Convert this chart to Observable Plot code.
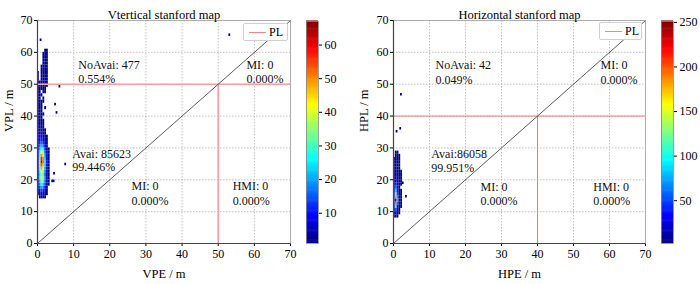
<!DOCTYPE html>
<html><head><meta charset="utf-8">
<script src="https://cdn.jsdelivr.net/npm/d3@7"></script>
<script src="https://cdn.jsdelivr.net/npm/@observablehq/plot@0.6"></script>
<style>
body{margin:0;background:#fff;}
#wrap{position:relative;width:700px;height:284px;overflow:hidden;font-family:"Liberation Serif","Times New Roman",serif;}
.abs{position:absolute;top:0;}
#wrap svg g[aria-label*="axis"] text{font-size:12px;}
.leg{position:absolute;background:#fff;border:1px solid #d0d0d0;border-radius:2px;box-sizing:border-box;}
.leg .ln{position:absolute;height:0;border-top:1px solid #f08a8a;}
.leg .tx{position:absolute;font-size:12px;line-height:12px;color:#000;}
</style></head>
<body>
<div id="wrap">
  <div id="pv" class="abs" style="left:0"></div>
  <div id="cv" class="abs" style="left:300px"></div>
  <div id="ph" class="abs" style="left:356px"></div>
  <div id="ch" class="abs" style="left:655px"></div>
  <div class="leg" style="left:243px;top:23px;width:45px;height:18px"><div class="ln" style="left:5px;width:17px;top:8px"></div><div class="tx" style="left:25px;top:2px">PL</div></div>
  <div class="leg" style="left:599px;top:22px;width:43px;height:18px"><div class="ln" style="left:5px;width:17px;top:8px"></div><div class="tx" style="left:25px;top:2px">PL</div></div>
</div>
<script>
// ---------- Vertical panel data ----------
const axisTicks = [0, 10, 20, 30, 40, 50, 60, 70];
const vTitle = "Vtertical stanford map";
const vXLabel = "VPE / m";
const vYLabel = "VPL / m";
const vPL = 50;
const vBinVPE = [0, 0.5, 1, 1.5, 2, 2.5, 3];           // left edge of VPE bins
const vRowVPL = [14,15,16,17,18,19,20,21,22,23,24,25,26,27,28,29,30,31,32,33,34,35,36,37,38,39,40,41,42,43,44,45,46,47,48,49,50,51,52,53,54,55,56,57,58,59,60];
const vCounts = [
  [0,2,3,2,1,0,0],
  [1,5,8,6,4,1,0],
  [2,10,14,12,8,2,0],
  [3,14,20,18,10,3,0],
  [4,18,28,22,14,4,1],
  [5,22,35,30,16,5,1],
  [6,25,40,34,18,6,1],
  [6,24,36,30,16,5,1],
  [7,26,42,35,18,6,1],
  [8,30,48,40,20,6,1],
  [8,34,55,46,22,7,2],
  [9,36,64,52,24,8,2],
  [8,34,58,50,22,7,2],
  [8,30,50,44,20,6,1],
  [7,26,42,36,16,5,1],
  [6,20,32,26,12,4,1],
  [5,16,22,18,8,3,0],
  [5,12,16,12,6,2,0],
  [4,10,12,8,4,1,0],
  [4,8,8,6,2,1,0],
  [3,6,5,3,1,0,0],
  [3,4,3,2,1,0,0],
  [3,4,2,1,0,0,0],
  [3,3,2,1,0,0,0],
  [3,3,1,1,0,0,0],
  [3,2,1,0,0,0,0],
  [3,2,1,1,0,0,0],
  [2,2,1,0,0,0,0],
  [3,2,1,0,1,0,0],
  [2,2,1,0,0,0,0],
  [2,2,1,1,0,0,0],
  [2,2,0,1,0,0,0],
  [2,1,1,0,0,0,0],
  [2,1,0,1,1,0,0],
  [2,1,1,1,1,0,0],
  [2,1,1,2,2,1,0],
  [2,1,1,2,3,2,0],
  [1,0,1,2,3,2,0],
  [1,0,1,2,2,2,0],
  [1,0,1,3,3,1,0],
  [0,0,1,2,2,1,0],
  [0,0,1,2,3,2,0],
  [0,0,0,2,2,1,0],
  [0,0,0,2,3,2,0],
  [0,0,0,1,2,2,0],
  [0,0,0,1,2,1,0],
  [0,0,0,0,1,1,0]
];
const vOutVPE = [7.8, 4.7, 4.2, 4.6, 5.0, 5.4, 6.2, 1.0, 53.2];
const vOutVPL = [24.8, 21.9, 19.5, 19.5, 43.6, 41.0, 49.2, 63.8, 65.4];
const vOutCnt = [3, 2, 3, 3, 1, 1, 1, 1, 1];
const vColorDomain = [1, 67];
const vColorTicks = [10, 20, 30, 40, 50, 60];
const vAnnText = ["NoAvai: 477","0.554%","MI: 0","0.000%","Avai: 85623","99.446%","MI: 0","0.000%","HMI: 0","0.000%"];
const vAnnX = [11.3, 11.3, 57.8, 57.8, 9.6, 9.6, 26, 26, 54, 54];
const vAnnY = [56, 51.7, 56, 51.7, 28.2, 24.1, 17.9, 13.2, 17.9, 13.2];

// ---------- Horizontal panel data ----------
const hTitle = "Horizontal stanford map";
const hXLabel = "HPE / m";
const hYLabel = "HPL / m";
const hPL = 40;
const hBinHPE = [0, 0.5, 1, 1.5, 2];
const hRowHPL = [8,9,10,11,12,13,14,15,16,17,18,19,20,21,22,23,24,25,26,27,28];
const hCounts = [
  [2,3,1,0,0],
  [10,20,6,1,0],
  [22,55,18,3,0],
  [35,110,35,5,1],
  [45,190,60,7,1],
  [50,245,80,9,1],
  [45,180,70,7,1],
  [35,130,50,6,1],
  [26,85,38,5,1],
  [20,60,26,4,0],
  [14,42,18,3,1],
  [10,30,13,4,1],
  [7,22,9,3,2],
  [5,15,7,4,1],
  [4,10,5,2,1],
  [3,7,4,2,0],
  [2,5,3,1,0],
  [1,4,2,1,0],
  [1,3,2,1,0],
  [0,2,1,1,0],
  [0,1,1,0,0]
];
const hOutHPE = [2.2, 1.0, 2.0, 3.6, 2.7];
const hOutHPL = [46.7, 35.1, 36.0, 14.7, 18.9];
const hOutCnt = [4, 3, 3, 4, 4];
const hColorDomain = [2, 251];
const hColorTicks = [50, 100, 150, 200, 250];
const hAnnText = ["NoAvai: 42","0.049%","MI: 0","0.000%","Avai:86058","99.951%","MI: 0","0.000%","HMI: 0","0.000%"];
const hAnnX = [11.7, 11.7, 57.5, 57.5, 10.5, 10.5, 24.2, 24.2, 55.5, 55.5];
const hAnnY = [56, 51.4, 56, 51.4, 27.9, 23.5, 17.6, 13.2, 17.6, 13.2];

// ---------- helpers ----------
const jet = ["#00007f","#0000ff","#00ffff","#7fff7f","#ffff00","#ff0000","#7f0000"];
const jetT = [0, 0.125, 0.375, 0.5, 0.625, 0.875, 1];
function colorScale(dom) {
  return {type: "linear", domain: jetT.map(t => dom[0] + t * (dom[1] - dom[0])), range: jet, interpolate: "rgb", clamp: true};
}
function buildCells(binX, rowY, counts, outX, outY, outC) {
  const bw = binX[1] - binX[0];
  const cells = [];
  rowY.forEach((y, r) => counts[r].forEach((c, i) => {
    if (c > 0) cells.push({x1: binX[i], x2: binX[i] + bw, y1: y, y2: y + 1, c});
  }));
  outX.forEach((x, i) => cells.push({x1: x - 0.25, x2: x + 0.25, y1: outY[i] - 0.4, y2: outY[i] + 0.4, c: outC[i]}));
  return cells;
}
const font = {fontFamily: "'Liberation Serif','Times New Roman',serif", fontSize: "12px", color: "#000", background: "transparent", overflow: "visible"};

function panel(cfg) {
  const ann = cfg.annText.map((t, i) => ({t, x: cfg.annX[i], y: cfg.annY[i]}));
  return Plot.plot({
    width: 300, height: 284,
    marginLeft: 37, marginRight: cfg.mr, marginTop: 20, marginBottom: 41,
    style: font,
    x: {domain: [0, 70], ticks: axisTicks, tickSize: 3, tickPadding: 3, label: null},
    y: {domain: [0, 70], ticks: axisTicks, tickSize: 3, tickPadding: 2, label: null},
    color: colorScale(cfg.colorDomain),
    marks: [
      Plot.ruleX(axisTicks.slice(1, -1), {stroke: "#b4b4b4", strokeWidth: 0.8, strokeDasharray: "1.5,1.5"}),
      Plot.ruleY(axisTicks.slice(1, -1), {stroke: "#b4b4b4", strokeWidth: 0.8, strokeDasharray: "1.5,1.5"}),
      Plot.rect(cfg.cells, {x1: "x1", x2: "x2", y1: "y1", y2: "y2", fill: "c"}),
      Plot.ruleY([cfg.pl], {x1: 0, x2: 70, stroke: cfg.plColor, strokeWidth: cfg.plWidth}),
      Plot.ruleX([cfg.pl], {y1: 0, y2: cfg.pl, stroke: cfg.plColor, strokeWidth: cfg.plWidth}),
      Plot.line([axisTicks[0], axisTicks[axisTicks.length - 1]], {x: d => d, y: d => d, stroke: "#333", strokeWidth: 0.8}),
      Plot.text(ann, {x: "x", y: "y", text: "t", textAnchor: "start", fill: "#111", fontSize: 12}),
      Plot.frame({stroke: "#999", strokeWidth: 0.8}),
      Plot.ruleX([0], {stroke: "#444", strokeWidth: 1.2}),
      Plot.ruleY([0], {stroke: "#444", strokeWidth: 1.2}),
      Plot.text([cfg.title], {frameAnchor: "top", dy: -10, fontSize: 12.5}),
      Plot.text([cfg.xLabel], {frameAnchor: "bottom", dy: 34, fontSize: 12.5}),
      Plot.text([cfg.yLabel], {frameAnchor: "left", dx: cfg.ylDx, rotate: -90, fontSize: 12.5})
    ]
  });
}
function colorbar(dom, ticks, mr) {
  const n = 200, step = (dom[1] - dom[0]) / n;
  const bands = d3.range(n).map(i => ({y1: dom[0] + i * step, y2: dom[0] + (i + 1) * step + step * 0.5, v: dom[0] + (i + 0.5) * step}));
  return Plot.plot({
    width: 45 + (mr - 27), height: 284,
    marginLeft: 6, marginRight: mr, marginTop: 21, marginBottom: 41,
    style: font,
    x: {domain: [0, 1], axis: null},
    y: {domain: dom, axis: "right", ticks: ticks, tickSize: 3, tickPadding: 3, label: null},
    color: colorScale(dom),
    marks: [
      Plot.rect(bands, {x1: 0, x2: 1, y1: "y1", y2: "y2", fill: "v"}),
      Plot.frame({stroke: "#888", strokeWidth: 0.8})
    ]
  });
}

document.getElementById("pv").append(panel({
  cells: buildCells(vBinVPE, vRowVPL, vCounts, vOutVPE, vOutVPL, vOutCnt),
  colorDomain: vColorDomain, pl: vPL, plColor: "#f3a2a2", plWidth: 1.6, mr: 10,
  annText: vAnnText, annX: vAnnX, annY: vAnnY,
  title: vTitle, xLabel: vXLabel, yLabel: vYLabel, ylDx: -29
}));
document.getElementById("cv").append(colorbar(vColorDomain, vColorTicks, 33));
document.getElementById("ph").append(panel({
  cells: buildCells(hBinHPE, hRowHPL, hCounts, hOutHPE, hOutHPL, hOutCnt),
  colorDomain: hColorDomain, pl: hPL, plColor: "#ea7c80", plWidth: 1, mr: 11,
  annText: hAnnText, annX: hAnnX, annY: hAnnY,
  title: hTitle, xLabel: hXLabel, yLabel: hYLabel, ylDx: -30
}));
document.getElementById("ch").append(colorbar(hColorDomain, hColorTicks, 27));
</script>
</body></html>
